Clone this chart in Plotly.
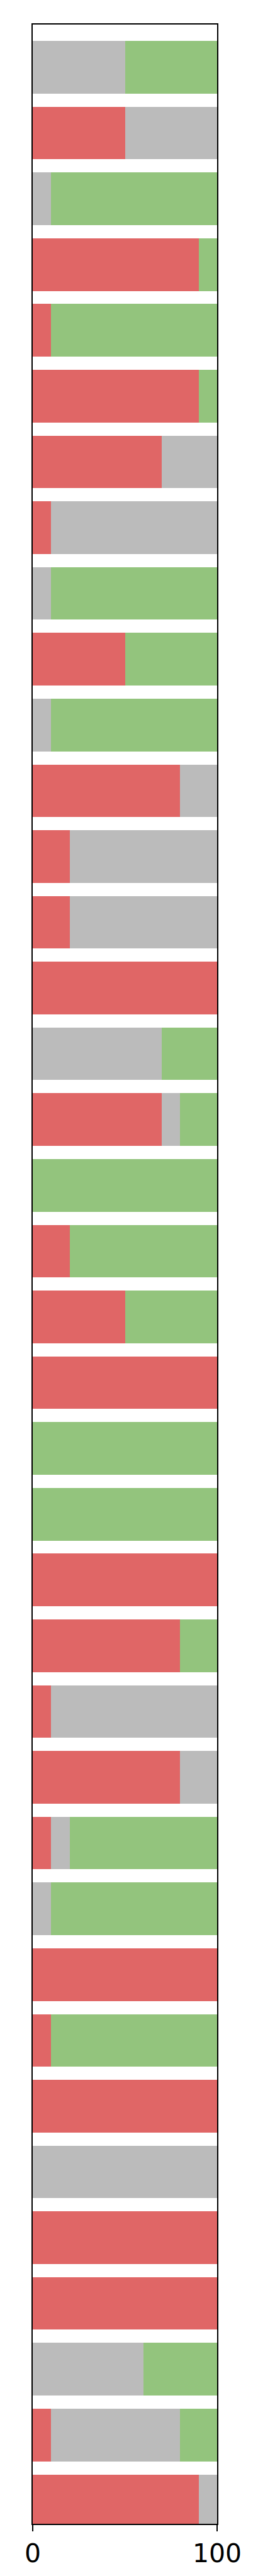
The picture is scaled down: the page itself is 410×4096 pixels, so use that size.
import plotly.graph_objects as go

# Data: share (%) per row, stacked red | gray | green, top row first
rows = list(range(1, 39))
red_vals = [0, 50, 0, 90, 10, 90, 70, 10, 0, 50, 0, 80, 20, 20, 100, 0, 70, 0, 20, 50,
            100, 0, 0, 100, 80, 10, 80, 10, 0, 100, 10, 100, 0, 100, 100, 0, 10, 90]
gray_vals = [50, 50, 10, 0, 0, 0, 30, 90, 10, 0, 10, 20, 80, 80, 0, 70, 10, 0, 0, 0,
             0, 0, 0, 0, 0, 90, 20, 10, 10, 0, 0, 0, 100, 0, 0, 60, 70, 10]
green_vals = [50, 0, 90, 10, 90, 10, 0, 0, 90, 50, 90, 0, 0, 0, 0, 30, 20, 100, 80, 50,
              0, 100, 100, 0, 20, 0, 0, 80, 90, 0, 90, 0, 0, 0, 0, 40, 20, 0]
x_ticks = [0, 100]

fig = go.Figure()
for vals, col in [(red_vals, "#E06666"), (gray_vals, "#BBBBBB"), (green_vals, "#93C47D")]:
    fig.add_trace(go.Bar(
        x=vals, y=rows, orientation="h", width=0.8,
        marker=dict(color=col, line=dict(width=0)),
        showlegend=False, hoverinfo="x",
    ))

fig.update_layout(
    width=410, height=4096,
    margin=dict(l=44, r=73, t=31, b=91, pad=0),
    barmode="stack",
    plot_bgcolor="white", paper_bgcolor="white",
    font=dict(family="DejaVu Sans", color="black"),
)
fig.update_xaxes(
    range=[0, 100], tickvals=x_ticks, ticktext=[str(v) for v in x_ticks],
    ticks="outside", ticklen=10, tickwidth=2, tickcolor="black",
    tickfont=dict(size=41, family="DejaVu Sans", color="black"),
    showline=True, linecolor="black", linewidth=2, mirror=True,
    showgrid=False, zeroline=False, fixedrange=True,
)
fig.update_yaxes(
    range=[len(rows) + 0.35, 0.35],
    showticklabels=False, ticks="",
    showline=True, linecolor="black", linewidth=2, mirror=True,
    showgrid=False, zeroline=False, fixedrange=True,
)

fig.write_html("out.html")
